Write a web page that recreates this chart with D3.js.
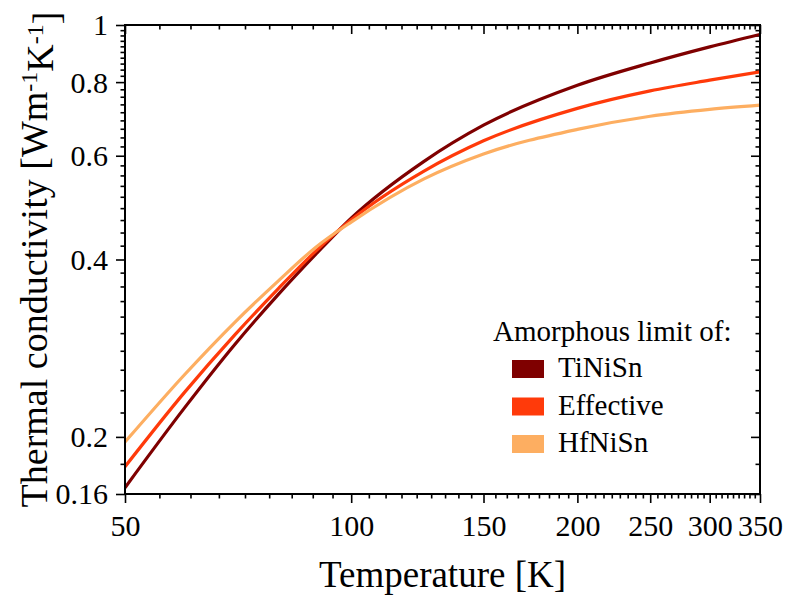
<!DOCTYPE html>
<html>
<head>
<meta charset="utf-8">
<script src="https://cdn.jsdelivr.net/npm/d3@7"></script>
<style>
  body { margin: 0; background: #fff; }
  svg { display: block; }
  svg text { font-family: "Liberation Serif", "Times New Roman", Times, serif; fill: #000; }
</style>
</head>
<body>
<div id="wrapper"></div>
<script>
// values
var temperature = [50, 60, 70, 80, 90, 100, 125, 150, 200, 250, 300, 350];
var tiNiSn    = [0.164, 0.224, 0.287, 0.349, 0.410, 0.470, 0.587, 0.676, 0.790, 0.862, 0.918, 0.964];
var effective = [0.178, 0.238, 0.298, 0.357, 0.415, 0.467, 0.565, 0.636, 0.722, 0.773, 0.806, 0.833];
var hfNiSn    = [0.196, 0.255, 0.313, 0.368, 0.421, 0.463, 0.548, 0.604, 0.665, 0.700, 0.719, 0.731];

var seriesNames = ["TiNiSn", "Effective", "HfNiSn"];
var seriesColors = ["#7f0000", "#ff3a0a", "#fdae61"];

var xTicks = [50, 100, 150, 200, 250, 300, 350];
var yTicks = [0.16, 0.2, 0.4, 0.6, 0.8, 1];
var yTickLabels = ["0.16", "0.2", "0.4", "0.6", "0.8", "1"];
var ySubdivisions = [2, 10, 9, 9, 10];
var xSubdivisions = 9;

var serif = '"Liberation Serif", "Times New Roman", Times, serif';

function drawChart() {
  var series = [tiNiSn, effective, hfNiSn];

  var dimensions = {
    width: 785,
    height: 600,
    margin: { top: 25, right: 25, bottom: 106, left: 125 }
  };
  dimensions.boundedWidth = dimensions.width - dimensions.margin.left - dimensions.margin.right;
  dimensions.boundedHeight = dimensions.height - dimensions.margin.top - dimensions.margin.bottom;

  var wrapper = d3.select("#wrapper")
    .append("svg")
    .attr("width", dimensions.width)
    .attr("height", dimensions.height);

  var bounds = wrapper.append("g")
    .attr("transform", "translate(" + dimensions.margin.left + "," + dimensions.margin.top + ")");

  var xScale = d3.scaleLog()
    .domain([50, 350])
    .range([0, dimensions.boundedWidth]);

  var yScale = d3.scaleLog()
    .domain([0.16, 1])
    .range([dimensions.boundedHeight, 0]);

  // minor ticks: equal linear steps between major ticks
  var xMinor = [];
  for (var i = 0; i < xTicks.length - 1; i++) {
    var step = (xTicks[i + 1] - xTicks[i]) / xSubdivisions;
    for (var k = 1; k < xSubdivisions; k++) xMinor.push(xTicks[i] + k * step);
  }
  var yMinor = [];
  for (var j = 0; j < yTicks.length - 1; j++) {
    var ystep = (yTicks[j + 1] - yTicks[j]) / ySubdivisions[j];
    for (var m = 1; m < ySubdivisions[j]; m++) yMinor.push(yTicks[j] + m * ystep);
  }

  var majorLen = 9, minorLen = 4.5;

  function styleAxis(g) {
    g.attr("font-family", null).attr("font-size", null);
    g.select(".domain").remove();
    g.selectAll(".tick line").attr("stroke", "#000").attr("stroke-width", 1.6);
    g.selectAll(".tick text")
      .attr("fill", "#000")
      .style("font-family", serif)
      .style("font-size", "30px");
  }

  // bottom axis (ticks outward)
  bounds.append("g")
    .attr("transform", "translate(0," + dimensions.boundedHeight + ")")
    .call(d3.axisBottom(xScale).tickValues(xMinor).tickSize(minorLen).tickFormat(""))
    .call(styleAxis);
  bounds.append("g")
    .attr("transform", "translate(0," + dimensions.boundedHeight + ")")
    .call(d3.axisBottom(xScale).tickValues(xTicks).tickSize(majorLen).tickPadding(12).tickFormat(d3.format("d")))
    .call(styleAxis);

  // top axis mirror (ticks pointing down, into plot)
  bounds.append("g")
    .call(d3.axisBottom(xScale).tickValues(xMinor).tickSize(minorLen).tickFormat(""))
    .call(styleAxis);
  bounds.append("g")
    .call(d3.axisBottom(xScale).tickValues(xTicks).tickSize(majorLen).tickFormat(""))
    .call(styleAxis);

  // left axis (ticks outward)
  bounds.append("g")
    .call(d3.axisLeft(yScale).tickValues(yMinor).tickSize(minorLen).tickFormat(""))
    .call(styleAxis);
  var yAxis = bounds.append("g")
    .call(d3.axisLeft(yScale).tickValues(yTicks).tickSize(majorLen).tickPadding(8)
      .tickFormat(function (d, i) { return yTickLabels[i]; }))
    .call(styleAxis);
  yAxis.selectAll("text").attr("dy", "0.33em");

  // right axis mirror (ticks pointing left, into plot)
  bounds.append("g")
    .attr("transform", "translate(" + dimensions.boundedWidth + ",0)")
    .call(d3.axisLeft(yScale).tickValues(yMinor).tickSize(minorLen).tickFormat(""))
    .call(styleAxis);
  bounds.append("g")
    .attr("transform", "translate(" + dimensions.boundedWidth + ",0)")
    .call(d3.axisLeft(yScale).tickValues(yTicks).tickSize(majorLen).tickFormat(""))
    .call(styleAxis);

  // curves
  wrapper.append("defs").append("clipPath").attr("id", "plotClip")
    .append("rect")
    .attr("width", dimensions.boundedWidth)
    .attr("height", dimensions.boundedHeight);

  var lineGenerator = d3.line()
    .x(function (d, i) { return xScale(temperature[i]); })
    .y(function (d) { return yScale(d); })
    .curve(d3.curveMonotoneX);

  bounds.append("g")
    .attr("clip-path", "url(#plotClip)")
    .selectAll("path")
    .data(series)
    .enter()
    .append("path")
    .attr("d", lineGenerator)
    .attr("fill", "none")
    .attr("stroke", function (d, i) { return seriesColors[i]; })
    .attr("stroke-width", 3.2);

  // frame
  bounds.append("rect")
    .attr("width", dimensions.boundedWidth)
    .attr("height", dimensions.boundedHeight)
    .attr("fill", "none")
    .attr("stroke", "#000")
    .attr("stroke-width", 2);

  // axis titles
  wrapper.append("text")
    .attr("x", dimensions.margin.left + dimensions.boundedWidth / 2)
    .attr("y", 587)
    .attr("text-anchor", "middle")
    .style("font-size", "37px")
    .text("Temperature [K]");

  var yTitle = wrapper.append("text")
    .attr("transform", "translate(47," + (dimensions.margin.top + dimensions.boundedHeight / 2) + ") rotate(-90)")
    .attr("text-anchor", "middle")
    .style("font-size", "38px");
  yTitle.append("tspan").text("Thermal conductivity [Wm");
  yTitle.append("tspan").attr("dy", "-0.42em").style("font-size", "24px").text("-1");
  yTitle.append("tspan").attr("dy", "0.42em").text("K");
  yTitle.append("tspan").attr("dy", "-0.42em").style("font-size", "24px").text("-1");
  yTitle.append("tspan").attr("dy", "0.42em").text("]");

  // legend
  var legend = wrapper.append("g");
  legend.append("text")
    .attr("x", 493)
    .attr("y", 341)
    .style("font-size", "29px")
    .text("Amorphous limit of:");
  var legendItems = legend.selectAll("g.item")
    .data(seriesNames)
    .enter()
    .append("g")
    .attr("class", "item")
    .attr("transform", function (d, i) { return "translate(0," + (i * 37.5) + ")"; });
  legendItems.append("rect")
    .attr("x", 512)
    .attr("y", 360)
    .attr("width", 32)
    .attr("height", 18)
    .attr("fill", function (d, i) { return seriesColors[i]; });
  legendItems.append("text")
    .attr("x", 558)
    .attr("y", 377)
    .style("font-size", "29px")
    .text(function (d) { return d; });
}
drawChart();
</script>
</body>
</html>
